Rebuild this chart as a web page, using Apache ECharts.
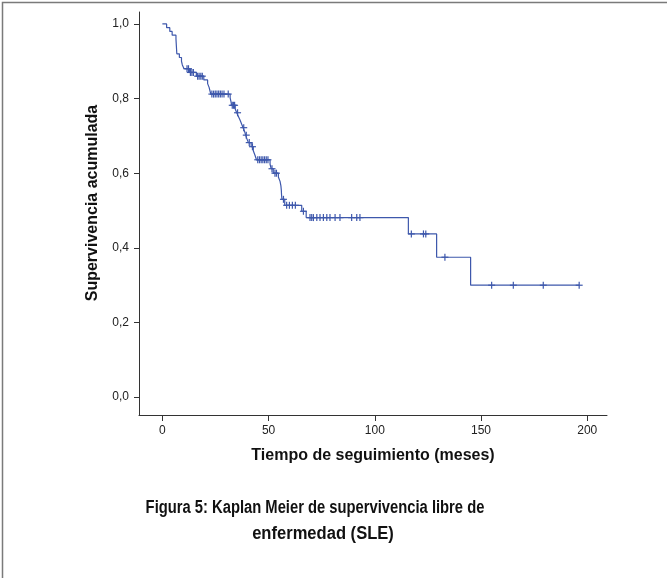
<!DOCTYPE html>
<html>
<head>
<meta charset="utf-8">
<script src="https://cdn.jsdelivr.net/npm/echarts@6/dist/echarts.min.js"></script>
<style>
  html, body { margin: 0; padding: 0; background: #ffffff; }
  #chart { width: 667px; height: 578px; }
</style>
</head>
<body>
<div id="chart"></div>
<script>
// Kaplan–Meier estimate: time of each event (months) and survival right after it
const eventTimes = [
  2.0, 3.5, 4.6, 6.4, 6.5, 6.6, 6.7, 6.8, 8.0, 9.0, 9.4, 10.2, 12.8, 16.0, 19.5,
  21.3, 22.0, 22.4, 22.8, 31.9, 32.3, 32.6, 34.3, 35.0, 35.8, 36.6, 37.3, 38.0,
  38.7, 39.2, 39.8, 40.5, 41.8, 42.8, 43.6, 44.3, 50.7, 51.2, 52.2, 54.6, 55.4,
  55.8, 56.0, 56.1, 56.3, 57.6, 65.6, 67.7, 115.8, 129.1, 145.1
];
const eventSurvival = [
  0.990, 0.980, 0.970, 0.960, 0.950, 0.940, 0.930, 0.920, 0.910, 0.900, 0.890, 0.880, 0.870, 0.860, 0.850,
  0.840, 0.830, 0.821, 0.812, 0.802, 0.792, 0.782, 0.772, 0.762, 0.752, 0.742, 0.732, 0.722,
  0.712, 0.702, 0.692, 0.682, 0.671, 0.660, 0.648, 0.636, 0.624, 0.612, 0.600, 0.590, 0.578,
  0.566, 0.554, 0.542, 0.530, 0.514, 0.498, 0.481, 0.4373, 0.3748, 0.2998
];
// Censored follow-up times (months)
const censorTimes = [
  11.6, 12.3, 13.2, 13.9, 14.6, 16.6, 17.3, 18.1, 18.8, 23.3, 24.1, 24.9, 25.7, 26.5,
  27.3, 28.1, 29.0, 31.0, 32.9, 33.5, 34.0, 35.4, 38.3, 39.5, 40.9, 42.4, 44.9, 45.7,
  46.5, 47.3, 48.1, 48.9, 49.7, 51.6, 53.0, 53.7, 57.0, 58.5, 59.8, 61.2, 62.6, 66.4,
  69.5, 70.3, 71.1, 72.7, 74.2, 75.8, 77.4, 78.9, 81.3, 83.6, 89.1, 91.5, 93.0,
  117.2, 122.9, 124.0, 133.0, 155.0, 165.2, 179.3, 196.2
];
const xTicks = [0, 50, 100, 150, 200];
const yTicks = [0, 0.2, 0.4, 0.6, 0.8, 1.0];

const curveColor = '#3e58ac';
const axisColor = '#333333';
const labelFont = 'Liberation Sans, Arial, sans-serif';

// survival value of the step function at time t
function survivalAt(t) {
  let s = 1;
  for (let i = 0; i < eventTimes.length; i++) {
    if (eventTimes[i] <= t) s = eventSurvival[i];
  }
  return s;
}

const lastTime = Math.max(...censorTimes, ...eventTimes);
const curveData = [[0, 1]]
  .concat(eventTimes.map((t, i) => [t, eventSurvival[i]]))
  .concat([[lastTime, survivalAt(lastTime)]]);
const censorData = censorTimes.map(t => [t, survivalAt(t)]);

// caption lines, set in a condensed bold face
function captionLine(text, x, y, squeeze) {
  return {
    type: 'text',
    x: x,
    y: y,
    scaleX: squeeze,
    style: {
      text: text,
      align: 'center',
      verticalAlign: 'middle',
      fontFamily: labelFont,
      fontWeight: 'bold',
      fontSize: 18,
      fill: '#111'
    }
  };
}

const chart = echarts.init(document.getElementById('chart'), null, { renderer: 'canvas' });

chart.setOption({
  backgroundColor: '#ffffff',
  animation: false,
  grid: { left: 139, right: 60, top: 12, bottom: 163, containLabel: false },
  xAxis: {
    type: 'value',
    min: -11,
    max: 209.3,
    name: 'Tiempo de seguimiento (meses)',
    nameLocation: 'middle',
    nameGap: 33,
    nameTextStyle: { fontFamily: labelFont, fontWeight: 'bold', fontSize: 16, color: '#111' },
    splitLine: { show: false },
    axisLine: { show: true, onZero: false, lineStyle: { color: axisColor, width: 1 } },
    axisTick: { show: true, length: 6, customValues: xTicks, lineStyle: { color: axisColor } },
    axisLabel: {
      customValues: xTicks, margin: 10, fontFamily: labelFont, fontSize: 12, color: '#222',
      formatter: v => String(v)
    }
  },
  yAxis: {
    type: 'value',
    min: -0.048,
    max: 1.032,
    splitLine: { show: false },
    axisLine: { show: true, onZero: false, lineStyle: { color: axisColor, width: 1 } },
    axisTick: { show: true, length: 5, customValues: yTicks, lineStyle: { color: axisColor } },
    axisLabel: {
      customValues: yTicks, margin: 10, fontFamily: labelFont, fontSize: 12, color: '#222',
      formatter: v => v.toFixed(1).replace('.', ',')
    }
  },
  series: [
    {
      type: 'line',
      step: 'end',
      data: curveData,
      showSymbol: false,
      symbol: 'none',
      lineStyle: { color: curveColor, width: 1.2 },
      silent: true
    },
    {
      type: 'custom',
      data: censorData,
      silent: true,
      renderItem: function (params, api) {
        const p = api.coord([api.value(0), api.value(1)]);
        const h = 3.5;
        const st = { stroke: curveColor, lineWidth: 1.2 };
        return {
          type: 'group',
          children: [
            { type: 'line', shape: { x1: p[0] - h, y1: p[1], x2: p[0] + h, y2: p[1] }, style: st },
            { type: 'line', shape: { x1: p[0], y1: p[1] - h, x2: p[0], y2: p[1] + h }, style: st }
          ]
        };
      }
    }
  ],
  graphic: [
    {
      type: 'polyline',
      shape: { points: [[2.5, 578], [2.5, 2.5], [667, 2.5]] },
      style: { stroke: '#7a7a7a', lineWidth: 1.5, fill: null }
    },
    {
      // y-axis title, rotated
      type: 'text',
      x: 93,
      y: 203,
      rotation: Math.PI / 2,
      style: {
        text: 'Supervivencia acumulada',
        align: 'center',
        verticalAlign: 'middle',
        fontFamily: labelFont,
        fontWeight: 'bold',
        fontSize: 16,
        fill: '#111'
      }
    },
    captionLine('Figura 5: Kaplan Meier de supervivencia libre de', 315, 508, 0.82),
    captionLine('enfermedad (SLE)', 323, 534, 0.92)
  ]
});
</script>
</body>
</html>
